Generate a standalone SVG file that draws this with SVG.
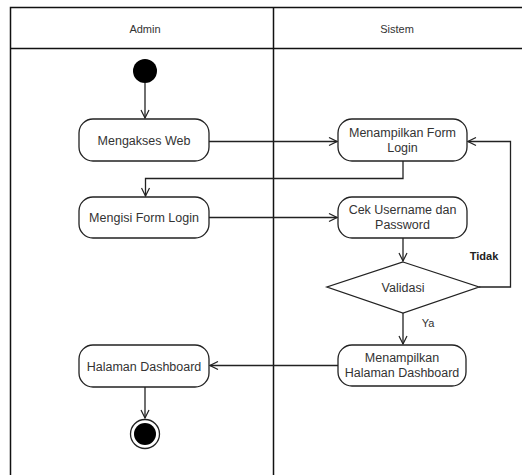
<svg xmlns="http://www.w3.org/2000/svg" width="522" height="475" viewBox="0 0 522 475">
<defs>
<style>
.lane{fill:none;stroke:#111;stroke-width:1.5}
.node{fill:#fff;stroke:#222;stroke-width:1.3}
.t{font-family:"Liberation Sans",Arial,sans-serif;font-size:12.5px;fill:#333;text-anchor:middle}
.h{font-size:11px}
.c{fill:none;stroke:#222;stroke-width:1.3}
</style>
<marker id="a" viewBox="0 0 10 10" refX="9" refY="5" markerWidth="10" markerHeight="10" markerUnits="userSpaceOnUse" orient="auto">
<path d="M1,1 L9,5 L1,9" fill="none" stroke="#222" stroke-width="1.2"/>
</marker>
</defs>
<rect width="522" height="475" fill="#fff"/>
<g id="lanes">
<rect class="lane" x="10.5" y="7.5" width="520" height="480"/>
<line class="lane" x1="10" y1="48.5" x2="522" y2="48.5"/>
<line class="lane" x1="273.5" y1="7" x2="273.5" y2="475"/>
<text class="t h" x="145" y="33">Admin</text>
<text class="t h" x="397" y="33">Sistem</text>
</g>
<g id="connectors">
<path class="c" d="M145,83 V118" marker-end="url(#a)"/>
<path class="c" d="M209,141.5 H337" marker-end="url(#a)"/>
<path class="c" d="M403,161 V178.5 H145.5 V196" marker-end="url(#a)"/>
<path class="c" d="M209,217.5 H337" marker-end="url(#a)"/>
<path class="c" d="M403,238 V261" marker-end="url(#a)"/>
<path class="c" d="M479,287 H510.5 V141.5 H468" marker-end="url(#a)"/>
<path class="c" d="M403,313 V344" marker-end="url(#a)"/>
<path class="c" d="M338,365.5 H210" marker-end="url(#a)"/>
<path class="c" d="M145,387 V418" marker-end="url(#a)"/>
<text class="t h" x="484" y="260" style="fill:#222;font-weight:bold">Tidak</text>
<text class="t h" x="428" y="327">Ya</text>
</g>
<g id="start"><circle cx="145" cy="71" r="12" fill="#000"/></g>
<g id="mengakses"><rect class="node" x="79" y="119" width="130" height="42" rx="14"/><text class="t" x="144" y="144.5">Mengakses Web</text></g>
<g id="menampilkan-form"><rect class="node" x="338" y="119" width="129" height="42" rx="14"/><text class="t" x="402.5" y="137">Menampilkan Form</text><text class="t" x="402.5" y="152">Login</text></g>
<g id="mengisi"><rect class="node" x="79" y="197" width="130" height="41" rx="14"/><text class="t" x="144" y="222">Mengisi Form Login</text></g>
<g id="cek"><rect class="node" x="338" y="197" width="129" height="41" rx="14"/><text class="t" x="402.5" y="214">Cek Username dan</text><text class="t" x="402.5" y="229">Password</text></g>
<g id="validasi"><polygon class="node" points="403,262 479,287 403,313 327,287"/><text class="t" x="403" y="291.5">Validasi</text></g>
<g id="menampilkan-dash"><rect class="node" x="338" y="345" width="128" height="41" rx="14"/><text class="t" x="402" y="362">Menampilkan</text><text class="t" x="402" y="377">Halaman Dashboard</text></g>
<g id="halaman"><rect class="node" x="79" y="345" width="130" height="42" rx="14"/><text class="t" x="144" y="370.5">Halaman Dashboard</text></g>
<g id="end"><circle cx="145" cy="434" r="14.5" fill="#fff" stroke="#222" stroke-width="1.3"/><circle cx="145" cy="434" r="11" fill="#000"/></g>
</svg>
